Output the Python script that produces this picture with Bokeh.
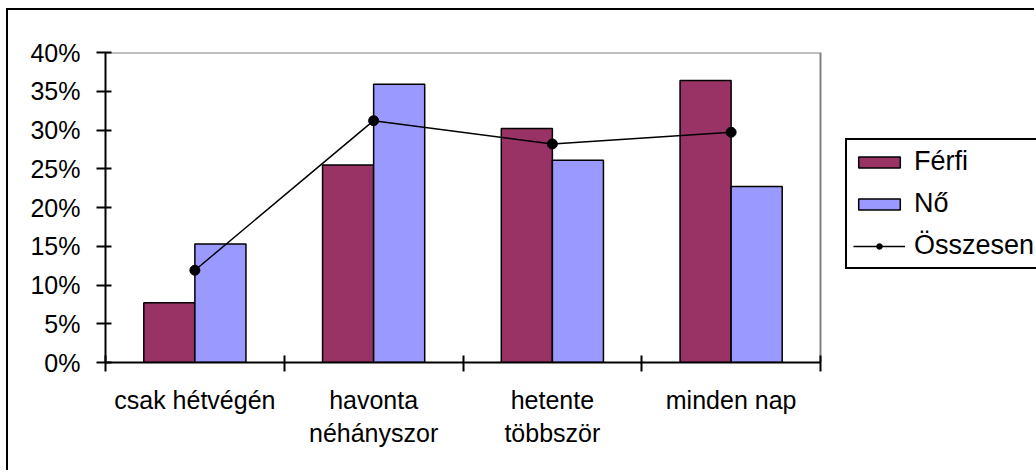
from bokeh.plotting import figure
from bokeh.models import (ColumnDataSource, FixedTicker, NumeralTickFormatter, Legend,
                          LegendItem, Range1d)
from bokeh.transform import dodge
from bokeh.embed import file_html
from bokeh.resources import INLINE

categories = ["csak hétvégén", "havonta\nnéhányszor", "hetente\ntöbbször", "minden nap"]
ferfi = [0.077, 0.255, 0.302, 0.364]
no = [0.153, 0.359, 0.261, 0.227]
osszesen = [0.119, 0.312, 0.282, 0.297]
y_ticks = [0, 0.05, 0.10, 0.15, 0.20, 0.25, 0.30, 0.35, 0.40]

FONT = "Liberation Sans"
n = len(categories)
centers = [i + 0.5 for i in range(n)]
bar_w = 1 / 3.5
ymax = y_ticks[-1]

# plot area spans 105..820 px for categories 0..n; the frame continues to the canvas edge
W, H = 1028, 462
LEFT, TOP, BOTTOM = 97, 42, 110
px_per_cat = 715 / n
x_end = n + (W - LEFT - 715) / px_per_cat

src = ColumnDataSource(dict(x=centers, ferfi=ferfi, no=no, ossz=osszesen))

p = figure(width=W, height=H, output_backend="svg", toolbar_location=None,
           x_range=Range1d(0, x_end), y_range=Range1d(0, ymax),
           min_border_left=LEFT, min_border_top=TOP, min_border_right=0, min_border_bottom=BOTTOM)
p.xgrid.visible = False
p.ygrid.visible = False
p.outline_line_color = None
p.background_fill_color = "white"
p.border_fill_color = "white"
p.styles = {"border-top": "2px solid black", "border-left": "2px solid black",
            "margin-left": "6px", "margin-top": "8px"}

# plot-area border (grey, top and right)
p.line(x=[0, n, n], y=[ymax, ymax, 0], line_color="#808080", line_width=2)

r1 = p.vbar(x=dodge("x", -bar_w / 2, range=p.x_range), top="ferfi", width=bar_w, source=src,
            fill_color="#993366", line_color="black", line_width=1.5)
r2 = p.vbar(x=dodge("x", bar_w / 2, range=p.x_range), top="no", width=bar_w, source=src,
            fill_color="#9999FF", line_color="black", line_width=1.5)
r3 = p.line(x="x", y="ossz", source=src, line_color="black", line_width=1.5)
r4 = p.scatter(x="x", y="ossz", source=src, size=10, marker="circle",
               fill_color="black", line_color="black")

# y axis
ya = p.yaxis[0]
ya.ticker = FixedTicker(ticks=y_ticks, minor_ticks=[])
ya.formatter = NumeralTickFormatter(format="0%")
ya.axis_line_width = 2
ya.axis_line_color = "black"
ya.major_tick_line_width = 2
ya.major_tick_line_color = "black"
ya.major_tick_out = 9
ya.major_tick_in = 6
ya.major_label_standoff = 16
ya.major_label_text_font = FONT
ya.major_label_text_font_size = "25px"
ya.major_label_text_color = "black"

# x axis
xa = p.xaxis[0]
xa.bounds = (0, n)
xa.ticker = FixedTicker(ticks=centers, minor_ticks=list(range(n + 1)))
xa.major_label_overrides = {c: lab for c, lab in zip(centers, categories)}
xa.major_tick_line_color = None
xa.major_tick_out = 0
xa.major_tick_in = 0
xa.minor_tick_line_color = "black"
xa.minor_tick_line_width = 2
xa.minor_tick_out = 9
xa.minor_tick_in = 7
xa.axis_line_width = 2
xa.axis_line_color = "black"
xa.major_label_standoff = 14
xa.major_label_text_font = FONT
xa.major_label_text_font_size = "25px"
xa.major_label_text_color = "black"

legend = Legend(items=[LegendItem(label="Férfi", renderers=[r1]),
                       LegendItem(label="Nő", renderers=[r2]),
                       LegendItem(label="Összesen", renderers=[r3, r4])],
                location=(740, 93))
legend.label_text_font = FONT
legend.label_text_font_size = "27px"
legend.label_text_color = "black"
legend.glyph_width = 52
legend.glyph_height = 14
legend.label_height = 24
legend.spacing = 11
legend.padding = 6
legend.margin = 0
legend.label_standoff = 9
legend.border_line_color = "black"
legend.border_line_width = 2
legend.border_line_alpha = 1
legend.background_fill_alpha = 1
p.add_layout(legend, "center")

open("out.html", "w").write(file_html(p, INLINE))
